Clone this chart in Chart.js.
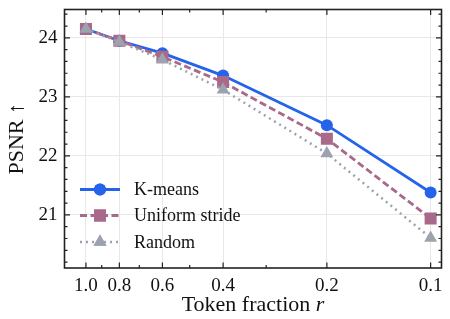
<!DOCTYPE html>
<html>
<head>
<meta charset="utf-8">
<script src="https://cdn.jsdelivr.net/npm/chart.js@4"></script>
<style>
  html, body { margin: 0; padding: 0; background: #fff; }
  #wrap { width: 450px; height: 319px; }
</style>
</head>
<body>
<div id="wrap"><canvas id="psnrChart" width="450" height="319"></canvas></div>
<script>
const fractions = [1.0, 0.8, 0.6, 0.4, 0.2, 0.1];
const kmeans = [24.15, 23.95, 23.74, 23.36, 22.52, 21.38];
const uniformStride = [24.15, 23.95, 23.68, 23.25, 22.29, 20.94];
const randomSel = [24.15, 23.93, 23.63, 23.12, 22.04, 20.61];
const xMajor = [1.0, 0.8, 0.6, 0.4, 0.2, 0.1];
const xMinor = [0.9, 0.7, 0.5, 0.3];
const yMajor = [21, 22, 23, 24];

const serif = "'Liberation Serif', 'Times New Roman', serif";

const toPoints = vals => vals.map((v, i) => ({x: fractions[i], y: v}));

const datasets = [
    {label: 'K-means', data: toPoints(kmeans), borderColor: '#2563eb', backgroundColor: '#2563eb',
     borderWidth: 2.8, pointStyle: 'circle', pointRadius: 6, order: 3},
    {label: 'Uniform stride', data: toPoints(uniformStride), borderColor: '#a8698a', backgroundColor: '#a8698a',
     borderWidth: 2.8, borderDash: [7, 3.5], pointStyle: 'rect', pointRadius: 8.5, order: 2},
    {label: 'Random', data: toPoints(randomSel), borderColor: '#9ca3af', backgroundColor: '#9ca3af',
     borderWidth: 2.5, borderDash: [2, 4], pointStyle: 'triangle', pointRadius: 7.5, order: 1}
];
datasets.forEach(d => { d.pointBorderWidth = 0; d.tension = 0; });

// frame, inward ticks, legend and axis titles
const decorPlugin = {
    id: 'decor',
    afterDraw(chart) {
        const {ctx, chartArea: a, scales} = chart;
        const xs = scales.x, ys = scales.y;
        ctx.save();
        ctx.strokeStyle = '#222';
        ctx.lineWidth = 1.6;
        ctx.strokeRect(a.left, a.top, a.right - a.left, a.bottom - a.top);

        const xt = (v, len) => {
            const px = xs.getPixelForValue(v);
            ctx.beginPath();
            ctx.moveTo(px, a.bottom); ctx.lineTo(px, a.bottom - len);
            ctx.moveTo(px, a.top); ctx.lineTo(px, a.top + len);
            ctx.stroke();
        };
        const yt = (v, len) => {
            const py = ys.getPixelForValue(v);
            ctx.beginPath();
            ctx.moveTo(a.left, py); ctx.lineTo(a.left + len, py);
            ctx.moveTo(a.right, py); ctx.lineTo(a.right - len, py);
            ctx.stroke();
        };
        ctx.lineWidth = 1.2;
        xMajor.forEach(v => xt(v, 5.5));
        xMinor.forEach(v => xt(v, 3));
        for (let v = 20.2; v < 24.45; v += 0.2) {
            const r = Math.round(v * 10) / 10;
            yt(r, yMajor.includes(r) ? 5.5 : 3);
        }

        // legend
        const rows = [189.5, 215.5, 242];
        chart.data.datasets.forEach((d, i) => {
            const y = rows[i];
            ctx.save();
            ctx.strokeStyle = d.borderColor;
            ctx.lineWidth = d.borderWidth;
            ctx.setLineDash(d.borderDash || []);
            ctx.beginPath();
            ctx.moveTo(80, y); ctx.lineTo(120, y);
            ctx.stroke();
            ctx.setLineDash([]);
            ctx.fillStyle = d.backgroundColor;
            Chart.helpers.drawPoint(ctx, {pointStyle: d.pointStyle, radius: d.pointRadius, borderWidth: 0}, 100, y);
            ctx.fill();
            ctx.restore();
            ctx.fillStyle = '#111';
            ctx.font = `18px ${serif}`;
            ctx.textAlign = 'left';
            ctx.textBaseline = 'middle';
            ctx.fillText(d.label, 134, y + 1);
        });

        // x title with italic r
        ctx.fillStyle = '#111';
        ctx.textBaseline = 'alphabetic';
        ctx.textAlign = 'left';
        const part1 = 'Token fraction ';
        ctx.font = `22px ${serif}`;
        const w1 = ctx.measureText(part1).width;
        ctx.font = `italic 22px ${serif}`;
        const w2 = ctx.measureText('r').width;
        const x0 = (a.left + a.right) / 2 - (w1 + w2) / 2;
        ctx.font = `22px ${serif}`;
        ctx.fillText(part1, x0, 311);
        ctx.font = `italic 22px ${serif}`;
        ctx.fillText('r', x0 + w1, 311);

        // y title
        ctx.save();
        ctx.translate(17, (a.top + a.bottom) / 2);
        ctx.rotate(-Math.PI / 2);
        ctx.font = `22px ${serif}`;
        ctx.textAlign = 'center';
        ctx.textBaseline = 'middle';
        ctx.fillText('PSNR \u2191', 0, 0);
        ctx.restore();
        ctx.restore();
    }
};

new Chart(document.getElementById('psnrChart'), {
    type: 'line',
    data: {datasets},
    options: {
        responsive: false,
        animation: false,
        devicePixelRatio: 1,
        layout: {padding: {top: 9.5, right: 3, left: 0, bottom: 0}},
        plugins: {legend: {display: false}, tooltip: {enabled: false}},
        scales: {
            x: {
                type: 'logarithmic',
                reverse: true,
                min: 0.093,
                max: 1.154,
                afterBuildTicks: scale => {
                    scale.ticks = xMajor.concat(xMinor).map(v => ({value: v, major: xMajor.includes(v)}));
                },
                afterFit: scale => { scale.height = 51; scale.paddingLeft = 0; scale.paddingRight = 0; },
                border: {display: false},
                grid: {
                    drawTicks: false,
                    color: c => (c.tick && c.tick.major) ? '#e8e8e8' : 'rgba(0,0,0,0)',
                    lineWidth: 1
                },
                ticks: {
                    autoSkip: false,
                    maxRotation: 0,
                    padding: 7,
                    color: '#111',
                    font: {family: serif, size: 19},
                    callback: v => xMajor.includes(v) ? v.toFixed(1) : ''
                }
            },
            y: {
                min: 20.1,
                max: 24.48,
                afterBuildTicks: scale => {
                    scale.ticks = yMajor.map(v => ({value: v}));
                },
                afterFit: scale => { scale.width = 64.5; scale.paddingTop = 0; scale.paddingBottom = 0; },
                border: {display: false},
                grid: {drawTicks: false, color: '#e8e8e8', lineWidth: 1},
                ticks: {
                    padding: 7,
                    color: '#111',
                    font: {family: serif, size: 19},
                    callback: v => String(v)
                }
            }
        }
    },
    plugins: [decorPlugin]
});
</script>
</body>
</html>
